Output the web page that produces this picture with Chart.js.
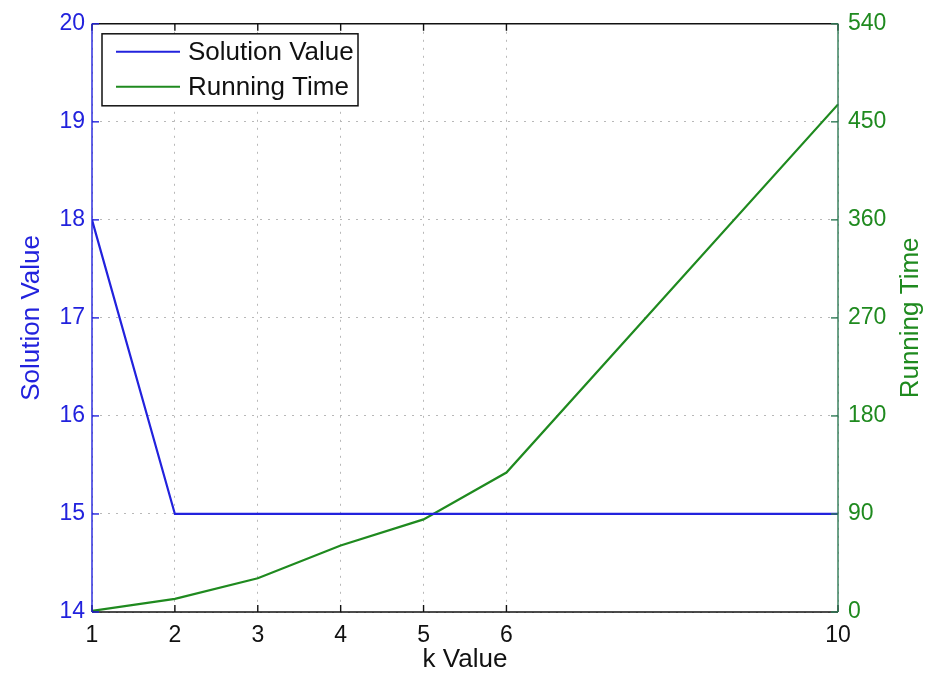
<!DOCTYPE html>
<html>
<head>
<meta charset="utf-8">
<title>k Value</title>
<script src="https://cdn.jsdelivr.net/npm/chart.js@4.4.1/dist/chart.umd.min.js"></script>
<style>
    html, body { margin: 0; padding: 0; background: #fff; }
    #wrap { width: 928px; height: 678px; }
</style>
</head>
<body>
<div id="wrap"><canvas id="kChart" width="928" height="678"></canvas></div>
<script>
// k vs solution value / running time
const kValues = [1, 2, 3, 4, 5, 6, 10];
const solutionValues = [18, 15, 15, 15, 15, 15, 15];
const runningTimes = [1, 12, 31, 61, 85, 128, 466];

const kTicks = [1, 2, 3, 4, 5, 6, 10];
const solutionTicks = [14, 15, 16, 17, 18, 19, 20];
const timeTicks = [0, 90, 180, 270, 360, 450, 540];

const BLUE = '#2222dd';
const GREEN = '#1f8a1f';
const RIGHT_AXIS = '#2f7a55';
const FONT = 'Liberation Sans, Arial, Helvetica, sans-serif';

const toTicks = (values) => values.map(v => ({value: v}));

// box spines, inward tick marks, legend box and right axis label
const frame = {
    id: 'frame',
    afterDraw(chart) {
        const {ctx, chartArea, scales} = chart;
        const {left, right, top, bottom} = chartArea;
        const len = 7;
        const line = (x1, y1, x2, y2) => {
            ctx.beginPath();
            ctx.moveTo(x1, y1);
            ctx.lineTo(x2, y2);
            ctx.stroke();
        };
        ctx.save();
        ctx.lineWidth = 1.4;

        ctx.strokeStyle = '#111';
        line(left, top, right, top);
        line(left, bottom, right, bottom);
        kTicks.forEach(v => {
            const x = scales.x.getPixelForValue(v);
            line(x, bottom, x, bottom - len);
            line(x, top, x, top + len);
        });

        ctx.strokeStyle = BLUE;
        line(left, top, left, bottom);
        solutionTicks.forEach(v => {
            const y = scales.y.getPixelForValue(v);
            line(left, y, left + len, y);
        });

        ctx.strokeStyle = RIGHT_AXIS;
        line(right, top, right, bottom);
        timeTicks.forEach(v => {
            const y = scales.y1.getPixelForValue(v);
            line(right, y, right - len, y);
        });

        // right axis title reads bottom to top
        ctx.fillStyle = GREEN;
        ctx.font = '26px ' + FONT;
        ctx.textAlign = 'center';
        ctx.textBaseline = 'middle';
        ctx.translate(911, (top + bottom) / 2);
        ctx.rotate(-Math.PI / 2);
        ctx.fillText('Running Time', 0, 0);
        ctx.restore();

        // legend
        ctx.save();
        const bx = left + 10, by = top + 10, bw = 256, bh = 72;
        ctx.fillStyle = '#fff';
        ctx.fillRect(bx, by, bw, bh);
        ctx.strokeStyle = '#111';
        ctx.lineWidth = 1.5;
        ctx.strokeRect(bx, by, bw, bh);
        ctx.font = '26px ' + FONT;
        ctx.textBaseline = 'middle';
        chart.data.datasets.forEach((ds, i) => {
            const y = by + 18 + i * 35;
            ctx.strokeStyle = ds.borderColor;
            ctx.lineWidth = 2;
            line(bx + 14, y, bx + 78, y);
            ctx.fillStyle = '#111';
            ctx.fillText(ds.label, bx + 86, y + 1);
        });
        ctx.restore();
    }
};

new Chart(document.getElementById('kChart').getContext('2d'), {
    type: 'line',
    data: {
        datasets: [{
            label: 'Solution Value',
            data: kValues.map((k, i) => ({x: k, y: solutionValues[i]})),
            borderColor: BLUE,
            borderWidth: 2.2,
            pointRadius: 0,
            yAxisID: 'y'
        }, {
            label: 'Running Time',
            data: kValues.map((k, i) => ({x: k, y: runningTimes[i]})),
            borderColor: GREEN,
            borderWidth: 2.2,
            pointRadius: 0,
            yAxisID: 'y1'
        }]
    },
    options: {
        responsive: false,
        animation: false,
        devicePixelRatio: 1,
        layout: {padding: {top: 20, left: 0, right: 0, bottom: 0}},
        plugins: {
            legend: {display: false},
            tooltip: {enabled: false}
        },
        scales: {
            x: {
                type: 'linear',
                min: 1,
                max: 10,
                afterBuildTicks: scale => { scale.ticks = toTicks(kTicks); },
                afterFit: scale => { scale.height = 66; },
                grid: {color: '#b8b8b8', drawTicks: false, lineWidth: 1},
                border: {display: false, dash: [2, 6]},
                ticks: {color: '#111', padding: 10, font: {family: FONT, size: 23}, maxRotation: 0},
                title: {display: true, text: 'k Value', color: '#111', font: {family: FONT, size: 26}, padding: {top: 0, bottom: 3}}
            },
            y: {
                position: 'left',
                min: 14,
                max: 20,
                afterBuildTicks: scale => { scale.ticks = toTicks(solutionTicks); },
                afterFit: scale => { scale.width = 92; },
                grid: {color: '#b8b8b8', drawTicks: false, lineWidth: 1},
                border: {display: false, dash: [2, 6]},
                ticks: {color: BLUE, padding: 7, font: {family: FONT, size: 23}},
                title: {display: true, text: 'Solution Value', color: BLUE, font: {family: FONT, size: 26}, padding: {top: 16, bottom: 0}}
            },
            y1: {
                position: 'right',
                min: 0,
                max: 540,
                afterBuildTicks: scale => { scale.ticks = toTicks(timeTicks); },
                afterFit: scale => { scale.width = 90; },
                grid: {drawOnChartArea: false, drawTicks: false},
                border: {display: false},
                ticks: {color: GREEN, padding: 10, font: {family: FONT, size: 23}}
            }
        }
    },
    plugins: [frame]
});
</script>
</body>
</html>
